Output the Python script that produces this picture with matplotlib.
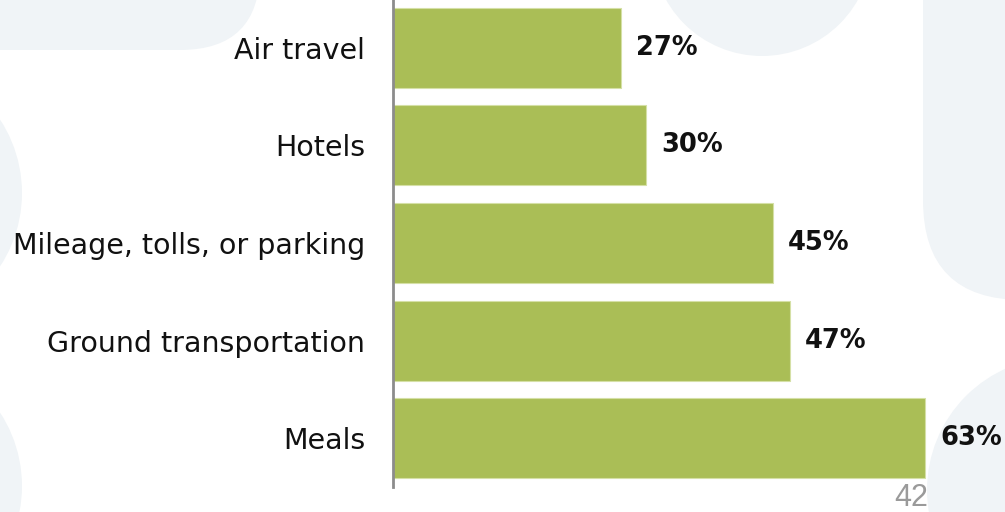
import matplotlib.pyplot as plt
from matplotlib.patches import Circle, FancyBboxPatch

# expense categories, top to bottom
categories = ['Air travel', 'Hotels', 'Mileage, tolls, or parking',
              'Ground transportation', 'Meals']
shares = [27, 30, 45, 47, 63]
page_no = '42'

bar_color = '#AABE56'
shape_color = '#F0F4F7'

plt.rcParams['font.family'] = ['DejaVu Sans']

fig = plt.figure(figsize=(10.05, 5.12), dpi=100)
W, H = 1005, 512

# soft background shapes in pixel coordinates
bg = fig.add_axes([0, 0, 1, 1])
bg.set_xlim(0, W)
bg.set_ylim(H, 0)
bg.axis('off')
bg.add_patch(FancyBboxPatch((-300, -300), 560 - 80, 350 - 80,
                            boxstyle='round,pad=80', fc=shape_color, ec='none'))
bg.add_patch(FancyBboxPatch((923 + 100, -300), 400, 600 - 100,
                            boxstyle='round,pad=100', fc=shape_color, ec='none'))
bg.add_patch(Circle((762, -54), 110, fc=shape_color, ec='none'))
bg.add_patch(Circle((-112, 193), 134, fc=shape_color, ec='none'))
bg.add_patch(Circle((-112, 486), 134, fc=shape_color, ec='none'))
bg.add_patch(Circle((1060, 490), 133, fc=shape_color, ec='none'))

# bar chart area: zero line at x=393, bottom at y=487
left, right = 393, 1005
top, bottom = -1, 487
ax = fig.add_axes([left / W, 1 - bottom / H, (right - left) / W, (bottom - top) / H])
ax.patch.set_alpha(0)

y = list(range(len(categories)))
ax.barh(y, shares, height=0.82, color=bar_color, edgecolor='#D5E0A6', linewidth=0.8)
ax.set_ylim(len(categories) - 0.5, -0.5)
ax.set_xlim(0, (right - left) / 8.44)

for yi, v in zip(y, shares):
    ax.annotate(f'{v}%', (v, yi), xytext=(11, 0), textcoords='offset points',
                va='center', ha='left', fontsize=18.5, fontweight='bold', color='#111111')

ax.set_yticks(y)
ax.set_yticklabels(categories, fontsize=20.5, color='#111111')
ax.tick_params(axis='y', length=0, pad=20)
ax.set_xticks([])
for side in ['top', 'right', 'bottom']:
    ax.spines[side].set_visible(False)
ax.spines['left'].set_color('#8C8C8C')
ax.spines['left'].set_linewidth(2)

fig.text(928 / W, 1 - 498 / H, page_no, ha='right', va='center',
         fontsize=22, color='#9A9A9A', family='Liberation Sans')

fig.savefig('out.png', dpi=100)
